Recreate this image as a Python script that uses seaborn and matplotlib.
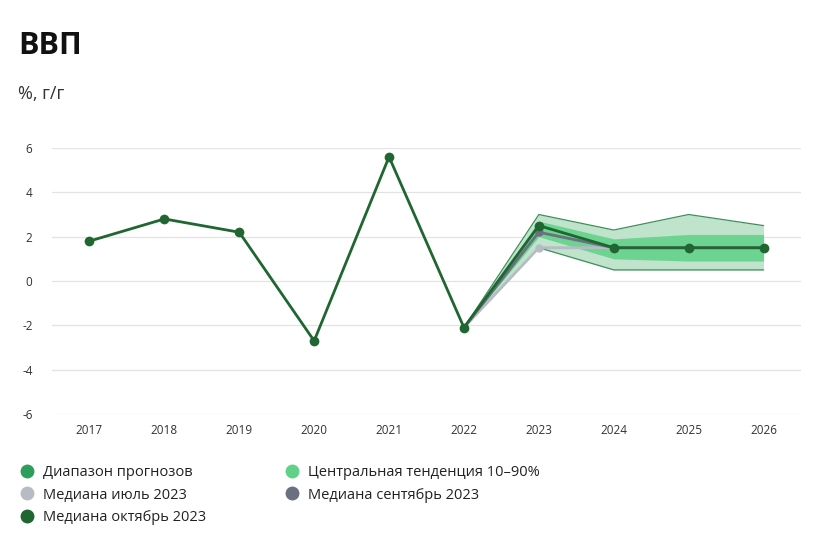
import matplotlib
matplotlib.use("Agg")
import matplotlib.pyplot as plt
import seaborn as sns
import pandas as pd
from matplotlib.lines import Line2D

sns.set_theme(style="white")
plt.rcParams['font.family'] = ['Open Sans', 'DejaVu Sans']
plt.rcParams['axes.unicode_minus'] = False

years = [2017, 2018, 2019, 2020, 2021, 2022, 2023, 2024, 2025, 2026]
median_oct = [1.8, 2.8, 2.2, -2.7, 5.6, -2.1, 2.5, 1.5, 1.5, 1.5]

fc_years = [2022, 2023, 2024, 2025, 2026]
median_jul = [-2.1, 1.5, 1.5, 1.5, 1.5]
median_sep = [-2.1, 2.2, 1.5, 1.5, 1.5]
range_low = [-2.1, 1.5, 0.5, 0.5, 0.5]
range_high = [-2.1, 3.0, 2.3, 3.0, 2.5]
central_low = [-2.1, 2.0, 1.0, 0.9, 0.9]
central_high = [-2.1, 2.7, 1.9, 2.1, 2.1]

legend_labels = ["Диапазон прогнозов", "Центральная тенденция 10–90%",
                 "Медиана июль 2023", "Медиана сентябрь 2023",
                 "Медиана октябрь 2023"]

c_range_fill = "#bfe3cb"
c_range_edge = "#3f8f5a"
c_central = "#6dd391"
c_range_legend = "#2e9e5b"
c_central_legend = "#5fd188"
c_jul = "#b7bbc4"
c_sep = "#6b7080"
c_oct = "#1f6630"

fig = plt.figure(figsize=(8.31, 5.46), dpi=100)
ax = fig.add_axes([52/831, 1-414/546, (801-52)/831, (414-148)/546])

ax.fill_between(fc_years, range_low, range_high, color=c_range_fill, lw=0, zorder=1)
ax.plot(fc_years, range_low, color=c_range_edge, lw=0.9, zorder=2)
ax.plot(fc_years, range_high, color=c_range_edge, lw=0.9, zorder=2)
ax.fill_between(fc_years, central_low, central_high, color=c_central, lw=0, zorder=2)

df_jul = pd.DataFrame({"year": fc_years, "v": median_jul})
df_sep = pd.DataFrame({"year": fc_years, "v": median_sep})
df_oct = pd.DataFrame({"year": years, "v": median_oct})

sns.lineplot(data=df_jul, x="year", y="v", ax=ax, color=c_jul, lw=2,
             marker="o", markersize=6, markeredgewidth=0, zorder=3)
sns.lineplot(data=df_sep, x="year", y="v", ax=ax, color=c_sep, lw=2,
             marker="o", markersize=6, markeredgewidth=0, zorder=4)
sns.lineplot(data=df_oct, x="year", y="v", ax=ax, color=c_oct, lw=2,
             marker="o", markersize=7, markeredgewidth=0, zorder=5)

ax.set_xlim(2016.5, 2026.5)
ax.set_ylim(-6, 6)
ax.set_yticks([-6, -4, -2, 0, 2, 4, 6])
ax.set_xticks(years)
ax.set_xticklabels([str(y) for y in years])
ax.set_xlabel("")
ax.set_ylabel("")
ax.grid(axis="y", color="#e3e3e3", lw=0.9)
ax.grid(axis="x", visible=False)
for s in ax.spines.values():
    s.set_visible(False)
ax.tick_params(axis="both", length=0, labelsize=8.5, labelcolor="#333333")
ax.tick_params(axis="y", pad=14)
ax.tick_params(axis="x", pad=7)

fig.text(18/831, 1-54/546, "ВВП", fontsize=22, fontweight="bold", color="#111111")
fig.text(18/831, 1-99/546, "%, г/г", fontsize=13, color="#333333")

handles = [Line2D([], [], ls="", marker="o", markersize=10, markeredgewidth=0, color=c)
           for c in [c_range_legend, c_jul, c_oct, c_central_legend, c_sep]]
labels = [legend_labels[0], legend_labels[2], legend_labels[4],
          legend_labels[1], legend_labels[3]]
leg = fig.legend(handles, labels, ncol=2, loc="upper left",
                 bbox_to_anchor=(14/831, 1-458/546), frameon=False,
                 fontsize=10.5, handlelength=0.8, handletextpad=0.7,
                 labelspacing=0.5, columnspacing=5.5, borderpad=0)
for t in leg.get_texts():
    t.set_color("#222222")

fig.savefig("out.png", dpi=100, facecolor="white")
